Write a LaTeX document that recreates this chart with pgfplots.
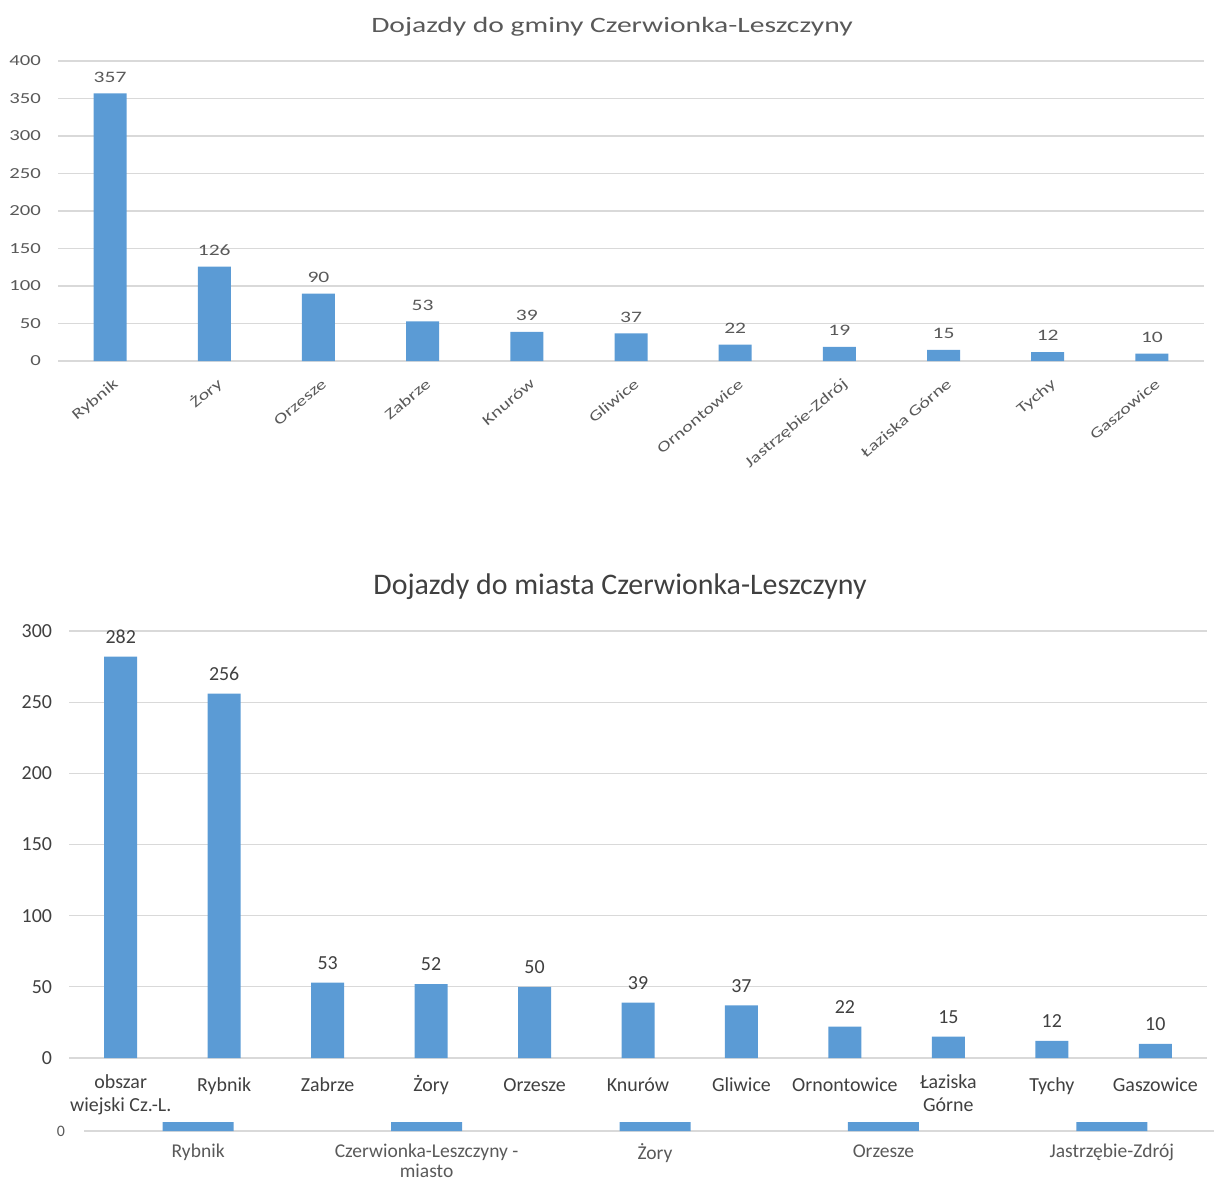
\documentclass[border=0pt]{standalone}
\usepackage{pgfplots}
\pgfplotsset{compat=1.18}
\usepackage{fontspec}
\setmainfont{Carlito}
\newfontfamily\topfont[FakeStretch=1.35]{Carlito}
\definecolor{barblue}{HTML}{5B9BD5}
\definecolor{txt}{HTML}{595959}
\definecolor{txtd}{HTML}{404040}
\definecolor{grd}{HTML}{D9D9D9}
\pgfplotsset{
 exstyle/.style={
  scale only axis,
  anchor=south west,
  axis line style={draw=none},
  tick style={draw=none},
  major tick length=0pt,
  ymajorgrids, major grid style={grd, line width=0.6bp},
  ybar, xtick=data,
  /pgf/number format/assume math mode=true,
  clip=true,
 }
}
\begin{document}
\begin{tikzpicture}
% ---------- top chart ----------
\node[text=txt, font=\topfont\fontsize{11}{13}\selectfont] at (306bp,-13.5bp) {Dojazdy do gminy Czerwionka-Leszczyny};
\begin{axis}[exstyle,
  at={(29bp,-180.5bp)}, width=573bp, height=150bp,
  xmin=-0.5, xmax=10.5, ymin=0, ymax=400, ytick={0,50,...,400},
  bar width=16.5bp,
  xticklabels={Rybnik,Żory,Orzesze,Zabrze,Knurów,Gliwice,Ornontowice,Jastrzębie-Zdrój,Łaziska Górne,Tychy,Gaszowice},
  xticklabel style={rotate=40, anchor=east, text=txt, font=\topfont\fontsize{7.5}{9}\selectfont, text height=5bp, text depth=1.5bp, xshift=-1bp, yshift=-10.5bp},
  yticklabel style={text=txt, font=\topfont\fontsize{7.7}{9}\selectfont, xshift=-5bp},
  nodes near coords,
  every node near coord/.append style={text=txt, font=\topfont\fontsize{8}{9}\selectfont, yshift=2bp},
]
\addplot[fill=barblue, draw=none] coordinates {(0,357) (1,126) (2,90) (3,53) (4,39) (5,37) (6,22) (7,19) (8,15) (9,12) (10,10)};
\end{axis}
% ---------- bottom chart ----------
\node[text=txtd, font=\fontsize{15}{17}\selectfont] at (310bp,-293.5bp) {Dojazdy do miasta Czerwionka-Leszczyny};
\begin{axis}[exstyle,
  at={(34.5bp,-529bp)}, width=569bp, height=213.5bp,
  xmin=-0.5, xmax=10.5, ymin=0, ymax=300, ytick={0,50,...,300},
  bar width=16.5bp,
  xticklabels={{obszar\\wiejski Cz.-L.},Rybnik,Zabrze,Żory,Orzesze,Knurów,Gliwice,Ornontowice,{Łaziska\\Górne},Tychy,Gaszowice},
  xticklabel style={anchor=north, align=center, text=txtd, font=\fontsize{10}{11.5}\selectfont, execute at begin node={\strut}, yshift=-5bp},
  yticklabel style={text=txtd, font=\fontsize{10}{11}\selectfont, xshift=-5bp},
  nodes near coords,
  every node near coord/.append style={text=txtd, font=\fontsize{10}{11}\selectfont, yshift=3bp},
]
\addplot[fill=barblue, draw=none] coordinates {(0,282) (1,256) (2,53) (3,52) (4,50) (5,39) (6,37) (7,22) (8,15) (9,12) (10,10)};
\end{axis}
% ---------- third (cut-off) chart ----------
\begin{axis}[exstyle,
  at={(42bp,-565.5bp)}, width=571bp, height=4.5bp,
  xmin=-0.5, xmax=4.5, ymin=0, ymax=10, ytick={0},
  bar width=35.5bp,
  xticklabels={Rybnik,{Czerwionka-Leszczyny -\\miasto},Żory,Orzesze,Jastrzębie-Zdrój},
  xticklabel style={anchor=north, align=center, text=txt, font=\fontsize{9.8}{9.8}\selectfont, execute at begin node={\strut}, yshift=-3bp},
  yticklabel style={text=txt, font=\fontsize{8}{9}\selectfont, xshift=-6bp},
]
\addplot[fill=barblue, draw=none] coordinates {(0,300) (1,250) (2,120) (3,60) (4,40)};
\end{axis}
\pgfresetboundingbox
\useasboundingbox (0,0) rectangle (607bp,-589.5bp);
\end{tikzpicture}
\end{document}
